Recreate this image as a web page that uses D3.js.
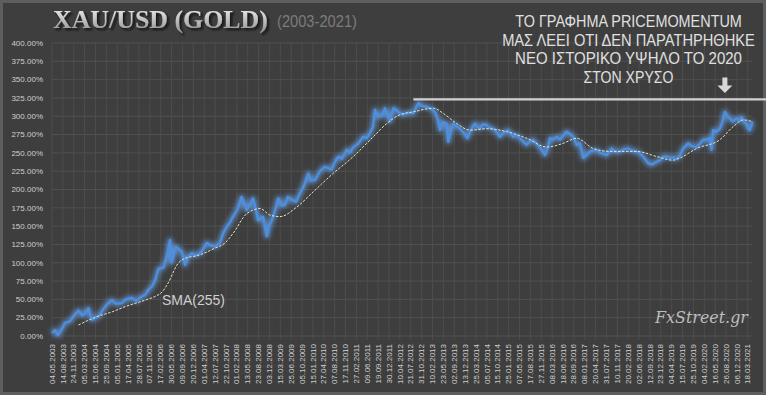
<!DOCTYPE html>
<html>
<head>
<meta charset="utf-8">
<script src="https://cdnjs.cloudflare.com/ajax/libs/d3/7.8.5/d3.min.js"></script>
<style>
    html, body { margin: 0; padding: 0; background: #3e3e3e; }
    svg { display: block; }
</style>
</head>
<body>
<div id="chart"></div>
<script>
/*global d3*/
(function () {
    'use strict';

    // x axis labels (every 102 days, as in the original sheet)
    var tickLabels = [
        '04.05.2003', '14.08.2003', '24.11.2003', '05.03.2004', '15.06.2004', '25.09.2004',
        '05.01.2005', '17.04.2005', '28.07.2005', '07.11.2005', '17.02.2006', '30.05.2006',
        '09.09.2006', '20.12.2006', '01.04.2007', '12.07.2007', '22.10.2007', '01.02.2008',
        '13.05.2008', '23.08.2008', '03.12.2008', '15.03.2009', '25.06.2009', '05.10.2009',
        '15.01.2010', '27.04.2010', '07.08.2010', '17.11.2010', '27.02.2011', '09.06.2011',
        '19.09.2011', '30.12.2011', '10.04.2012', '21.07.2012', '31.10.2012', '10.02.2013',
        '23.05.2013', '02.09.2013', '13.12.2013', '25.03.2014', '05.07.2014', '15.10.2014',
        '25.01.2015', '07.05.2015', '17.08.2015', '27.11.2015', '08.03.2016', '18.06.2016',
        '28.09.2016', '08.01.2017', '20.04.2017', '31.07.2017', '10.11.2017', '20.02.2018',
        '02.06.2018', '12.09.2018', '23.12.2018', '04.04.2019', '15.07.2019', '25.10.2019',
        '04.02.2020', '16.05.2020', '26.08.2020', '06.12.2020', '18.03.2021'
    ];

    var yTickValues = [0, 25, 50, 75, 100, 125, 150, 175, 200, 225, 250, 275, 300, 325, 350, 375, 400];

    // % change of gold vs. start
    var goldSeries = [
        ['2003-05-04', 4], ['2003-06-01', 8], ['2003-06-29', 1], ['2003-08-06', 10], ['2003-09-04', 18],
        ['2003-10-20', 20], ['2003-11-27', 28], ['2004-01-07', 35], ['2004-02-11', 28], ['2004-03-09', 31],
        ['2004-04-10', 38], ['2004-05-11', 22], ['2004-06-11', 25], ['2004-07-09', 26], ['2004-09-04', 38],
        ['2004-10-12', 45], ['2004-11-16', 49], ['2004-12-26', 44], ['2005-02-18', 45], ['2005-03-28', 50],
        ['2005-05-21', 52], ['2005-06-30', 48], ['2005-08-23', 54], ['2005-09-24', 56], ['2005-10-24', 63],
        ['2005-11-28', 68], ['2005-12-26', 76], ['2006-01-27', 92], ['2006-03-13', 93], ['2006-04-14', 108],
        ['2006-05-15', 131], ['2006-05-30', 100], ['2006-07-10', 122], ['2006-09-03', 115], ['2006-10-03', 97],
        ['2006-11-01', 108], ['2006-12-05', 113], ['2007-01-15', 110], ['2007-03-08', 115], ['2007-04-24', 127],
        ['2007-05-25', 124], ['2007-07-11', 122], ['2007-08-27', 127], ['2007-09-25', 140], ['2007-10-29', 149],
        ['2007-11-29', 155], ['2007-12-27', 163], ['2008-02-04', 172], ['2008-03-17', 190], ['2008-05-04', 172],
        ['2008-06-04', 180], ['2008-07-02', 188], ['2008-07-25', 175], ['2008-08-18', 158], ['2008-10-04', 163],
        ['2008-11-08', 136], ['2008-11-30', 150], ['2008-12-25', 158], ['2009-01-25', 172], ['2009-02-25', 188],
        ['2009-03-30', 178], ['2009-04-28', 179], ['2009-05-25', 190], ['2009-06-29', 186], ['2009-08-09', 183],
        ['2009-09-16', 195], ['2009-10-23', 205], ['2009-12-03', 222], ['2009-12-28', 212], ['2010-02-05', 213],
        ['2010-03-21', 225], ['2010-05-07', 231], ['2010-07-09', 227], ['2010-08-10', 238], ['2010-09-10', 245],
        ['2010-10-15', 242], ['2010-11-28', 254], ['2010-12-29', 250], ['2011-01-29', 258], ['2011-03-12', 262],
        ['2011-05-01', 272], ['2011-06-05', 270], ['2011-07-03', 277], ['2011-08-01', 285], ['2011-08-20', 309],
        ['2011-09-17', 300], ['2011-10-21', 300], ['2011-11-22', 311], ['2011-12-20', 300], ['2012-01-08', 293],
        ['2012-02-09', 311], ['2012-03-04', 309], ['2012-04-10', 304], ['2012-05-11', 302], ['2012-06-25', 305],
        ['2012-08-14', 304], ['2012-09-30', 318], ['2012-11-04', 314], ['2012-12-18', 313], ['2013-01-28', 310],
        ['2013-03-04', 306], ['2013-04-02', 295], ['2013-04-21', 281], ['2013-05-18', 292], ['2013-06-22', 290],
        ['2013-07-07', 265], ['2013-08-02', 280], ['2013-08-23', 290], ['2013-09-28', 286], ['2013-10-26', 283],
        ['2013-12-02', 277], ['2014-01-03', 270], ['2014-02-07', 282], ['2014-03-14', 290], ['2014-04-12', 285],
        ['2014-04-30', 283], ['2014-05-28', 289], ['2014-07-02', 288], ['2014-08-03', 284], ['2014-09-03', 283],
        ['2014-10-07', 278], ['2014-11-05', 272], ['2014-12-12', 278], ['2015-01-22', 281], ['2015-02-16', 276],
        ['2015-03-08', 272], ['2015-04-12', 274], ['2015-05-10', 270], ['2015-06-07', 266], ['2015-07-12', 261],
        ['2015-08-12', 266], ['2015-09-13', 268], ['2015-10-17', 262], ['2015-12-01', 254], ['2016-01-01', 247],
        ['2016-01-29', 258], ['2016-02-17', 270], ['2016-03-15', 268], ['2016-04-19', 272], ['2016-05-20', 268],
        ['2016-06-17', 273], ['2016-07-22', 279], ['2016-08-22', 276], ['2016-09-22', 272], ['2016-10-24', 261],
        ['2016-11-25', 263], ['2016-12-25', 243], ['2017-01-30', 248], ['2017-02-27', 252], ['2017-04-30', 254],
        ['2017-05-30', 250], ['2017-06-30', 249], ['2017-08-04', 247], ['2017-09-18', 256], ['2017-10-28', 251],
        ['2017-12-05', 252], ['2018-01-12', 255], ['2018-02-20', 256], ['2018-03-26', 253], ['2018-05-09', 252],
        ['2018-06-10', 249], ['2018-07-10', 245], ['2018-08-26', 236], ['2018-09-30', 234], ['2018-11-14', 238],
        ['2018-12-15', 240], ['2019-01-15', 245], ['2019-02-16', 245], ['2019-03-17', 243], ['2019-04-14', 244],
        ['2019-05-18', 242], ['2019-06-19', 246], ['2019-07-20', 256], ['2019-09-06', 263], ['2019-10-10', 259],
        ['2019-11-24', 258], ['2019-12-24', 262], ['2020-01-25', 268], ['2020-02-26', 268], ['2020-03-27', 270],
        ['2020-04-12', 254], ['2020-04-27', 281], ['2020-05-29', 279], ['2020-06-29', 283], ['2020-07-22', 292],
        ['2020-08-15', 306], ['2020-09-08', 300], ['2020-10-01', 297], ['2020-10-29', 293], ['2020-12-03', 297],
        ['2021-01-04', 294], ['2021-01-20', 299], ['2021-02-11', 292], ['2021-03-06', 290], ['2021-03-21', 283],
        ['2021-04-06', 281], ['2021-05-01', 293]
    ];

    // simple moving average, 255 periods
    var smaSeries = [
        ['2004-01-07', 15], ['2004-07-09', 27], ['2004-11-19', 33], ['2005-03-19', 40], ['2005-09-24', 49],
        ['2005-12-26', 54], ['2006-03-01', 60], ['2006-04-26', 72], ['2006-07-29', 99], ['2006-10-03', 106],
        ['2007-02-03', 110], ['2007-07-11', 120], ['2007-10-13', 127], ['2007-12-27', 140], ['2008-05-04', 167],
        ['2008-09-06', 174], ['2008-12-09', 165], ['2009-03-12', 163], ['2009-08-16', 176], ['2010-01-19', 197],
        ['2010-07-24', 222], ['2011-01-29', 245], ['2011-08-04', 272], ['2011-12-08', 290], ['2012-04-10', 302],
        ['2012-08-14', 306], ['2013-02-19', 311], ['2013-05-21', 304], ['2013-09-25', 290], ['2014-01-28', 281],
        ['2014-07-02', 283], ['2015-01-07', 279], ['2015-07-12', 270], ['2016-01-17', 258], ['2016-06-20', 263],
        ['2016-10-24', 270], ['2017-03-28', 256], ['2017-09-02', 252], ['2018-05-09', 252], ['2018-11-14', 245],
        ['2019-04-17', 240], ['2019-06-19', 243], ['2019-11-24', 256], ['2020-06-29', 268], ['2020-11-02', 286],
        ['2021-02-04', 295], ['2021-04-22', 293]
    ];

    var noteLines = [
        'ΤΟ ΓΡΑΦΗΜΑ PRICEMOMENTUM',
        'ΜΑΣ ΛΕΕΙ ΟΤΙ ΔΕΝ ΠΑΡΑΤΗΡΗΘΗΚΕ',
        'ΝΕΟ ΙΣΤΟΡΙΚΟ ΥΨΗΛΟ ΤΟ 2020',
        'ΣΤΟΝ ΧΡΥΣΟ'
    ];
    var noteWidths = [227, 253, 227, 90];

    var peakLevel = 323,
        peakFrom = '2012-08-14',
        arrowDate = '2020-08-15';

    var width = 766,
        height = 395,
        parseDay = d3.timeParse('%Y-%m-%d'),
        parseLabel = d3.timeParse('%d.%m.%Y'),

        x = d3.scaleTime()
            .domain([parseDay('2003-05-04'), parseDay('2021-05-01')])
            .range([52, 752.5]),
        y = d3.scaleLinear()
            .domain([0, 400])
            .range([336, 43]),

        svg = d3.select('#chart')
            .append('svg')
            .attr('width', width)
            .attr('height', height);

    // squeeze a text horizontally so it spans w pixels (keeps the real bbox)
    function fitText(sel, w) {
        sel.each(function () {
            var natural = this.getComputedTextLength(),
                tx = +this.getAttribute('data-x'),
                ty = +this.getAttribute('data-y'),
                k = typeof w === 'function' ? w.apply(this, arguments) : w;
            d3.select(this).attr('transform',
                'translate(' + tx + ',' + ty + ') scale(' + (k / natural) + ',1)');
        });
    }

    var defs = svg.append('defs');

    var glow = defs.append('filter')
        .attr('id', 'glow')
        .attr('x', '-5%').attr('y', '-10%')
        .attr('width', '110%').attr('height', '120%');
    glow.append('feGaussianBlur').attr('stdDeviation', 2.4);

    var shadow = defs.append('filter')
        .attr('id', 'shadow')
        .attr('x', '-10%').attr('y', '-20%')
        .attr('width', '120%').attr('height', '150%');
    shadow.append('feDropShadow')
        .attr('dx', 2).attr('dy', 2)
        .attr('stdDeviation', 1.2)
        .attr('flood-color', '#111')
        .attr('flood-opacity', 0.9);

    var grad = defs.append('linearGradient')
        .attr('id', 'titleGrad')
        .attr('x1', 0).attr('y1', 0).attr('x2', 0).attr('y2', 1);
    grad.append('stop').attr('offset', '0%').attr('stop-color', '#f4f4f4');
    grad.append('stop').attr('offset', '55%').attr('stop-color', '#bcbcbc');
    grad.append('stop').attr('offset', '100%').attr('stop-color', '#8a8a8a');

    // background + frame
    svg.append('rect')
        .attr('x', 1.5).attr('y', 1.5)
        .attr('width', width - 3).attr('height', height - 3)
        .style('fill', '#3e3e3e')
        .style('stroke', '#5e5e5e')
        .style('stroke-width', '3px');

    // grid
    var tickDates = tickLabels.map(parseLabel);

    svg.append('g')
        .selectAll('line')
        .data(yTickValues)
        .enter().append('line')
        .attr('x1', x.range()[0]).attr('x2', x.range()[1])
        .attr('y1', function (d) { return y(d); })
        .attr('y2', function (d) { return y(d); })
        .style('stroke', '#515151')
        .style('stroke-width', '1px');

    svg.append('g')
        .selectAll('line')
        .data(tickDates)
        .enter().append('line')
        .attr('x1', function (d) { return x(d); })
        .attr('x2', function (d) { return x(d); })
        .attr('y1', y(400)).attr('y2', y(0) + 4)
        .style('stroke', '#4d4d4d')
        .style('stroke-width', '1px');

    // y labels
    svg.append('g')
        .selectAll('text')
        .data(yTickValues)
        .enter().append('text')
        .attr('x', 43)
        .attr('y', function (d) { return y(d); })
        .attr('dy', '0.35em')
        .attr('text-anchor', 'end')
        .style('font', '8px "Liberation Sans", Arial, sans-serif')
        .style('fill', '#cfcfcf')
        .text(function (d) { return d3.format('.2f')(d) + '%'; });

    // x labels
    svg.append('g')
        .selectAll('text')
        .data(tickLabels)
        .enter().append('text')
        .attr('transform', function (d) {
            return 'translate(' + x(parseLabel(d)) + ',' + (y(0) + 8) + ') rotate(-90)';
        })
        .attr('dy', '0.33em')
        .attr('text-anchor', 'end')
        .style('font', '8px "Liberation Sans", Arial, sans-serif')
        .style('fill', '#cfcfcf')
        .text(function (d) { return d; });

    var line = d3.line()
        .x(function (d) { return x(parseDay(d[0])); })
        .y(function (d) { return y(d[1]); });

    // gold line with glow
    svg.append('path')
        .datum(goldSeries)
        .attr('d', line)
        .attr('filter', 'url(#glow)')
        .style('fill', 'none')
        .style('stroke', '#6fb0ff')
        .style('stroke-opacity', 0.75)
        .style('stroke-width', '4.5px')
        .style('stroke-linejoin', 'round');

    svg.append('path')
        .datum(goldSeries)
        .attr('d', line)
        .style('fill', 'none')
        .style('stroke', '#4a8fe4')
        .style('stroke-width', '2.2px')
        .style('stroke-linejoin', 'round');

    // SMA
    svg.append('path')
        .datum(smaSeries)
        .attr('d', line.curve(d3.curveMonotoneX))
        .style('fill', 'none')
        .style('stroke', '#e6e6c8')
        .style('stroke-width', '1px')
        .style('stroke-dasharray', '2.5,1.5');

    svg.append('text')
        .attr('x', x(parseDay('2006-03-01')))
        .attr('y', y(42))
        .style('font', '14px "Liberation Sans", Arial, sans-serif')
        .style('fill', '#cfcfcf')
        .text('SMA(255)');

    // previous high line + arrow
    svg.append('line')
        .attr('x1', x(parseDay(peakFrom))).attr('x2', width)
        .attr('y1', y(peakLevel)).attr('y2', y(peakLevel))
        .style('stroke', '#d2d2d2')
        .style('stroke-width', '2.4px');

    var ax = x(parseDay(arrowDate)),
        ay = y(peakLevel) - 7;
    svg.append('path')
        .attr('d', 'M' + (ax - 2.5) + ',' + (ay - 15) + 'h5v8h5l-7.5,7.5l-7.5,-7.5h5z')
        .style('fill', '#d8d8d8');

    // title
    svg.append('text')
        .attr('data-x', 53).attr('data-y', 28)
        .attr('filter', 'url(#shadow)')
        .style('font', 'bold 25px "Liberation Serif", "Times New Roman", serif')
        .style('fill', 'url(#titleGrad)')
        .text('XAU/USD (GOLD)')
        .call(fitText, 215);

    svg.append('text')
        .attr('data-x', 277).attr('data-y', 26.5)
        .style('font', '16px "Liberation Sans", Arial, sans-serif')
        .style('fill', '#7c7c7c')
        .text('(2003-2021)')
        .call(fitText, 80);

    // note, top right
    svg.append('g')
        .selectAll('text')
        .data(noteLines)
        .enter().append('text')
        .attr('data-x', 628.5)
        .attr('data-y', function (d, i) { return 27.3 + i * 18.5; })
        .attr('text-anchor', 'middle')
        .style('font', '17px "Liberation Sans", Arial, sans-serif')
        .style('fill', '#e0e0e0')
        .text(function (d) { return d; })
        .call(fitText, function (d, i) { return noteWidths[i]; });

    // watermark
    svg.append('text')
        .attr('data-x', 655).attr('data-y', 323)
        .style('font', 'italic 17px "DejaVu Serif", serif')
        .style('fill', '#bdbdbd')
        .text('FxStreet.gr')
        .call(fitText, 93);

}());
</script>
</body>
</html>
